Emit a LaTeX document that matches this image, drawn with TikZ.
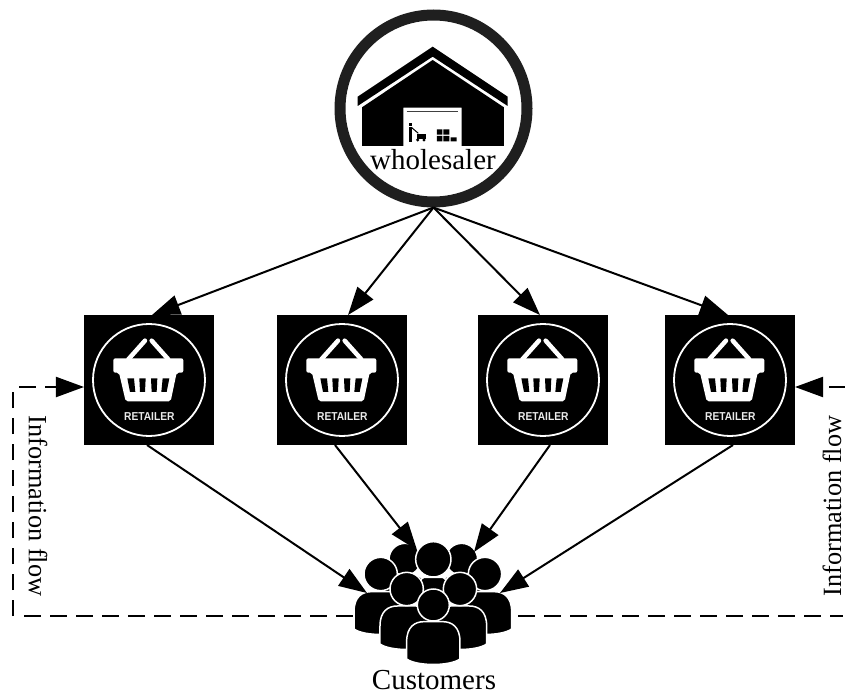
\documentclass[tikz,border=0pt]{standalone}
\usepackage{fontspec}
\setmainfont{Liberation Serif}
\newfontfamily\retailfont{Liberation Sans}
\usetikzlibrary{arrows.meta,calc}
\tikzset{
  conn/.style={line width=2bp,-{Triangle[length=28bp,width=20bp]}},
  infoflow/.style={line width=2bp,dash pattern=on 16.5bp off 9.5bp},
  infotip/.style={-{Triangle[length=28bp,width=20bp]}},
  retailbox/.style={fill=black,minimum width=130bp,minimum height=130bp,inner sep=0pt,outer sep=0pt},
  ppl/.style={fill=black,draw=white,line width=1.5bp},
  bigtext/.style={font=\fontsize{29bp}{32bp}\selectfont,inner sep=0pt},
  flowtext/.style={font=\fontsize{26.3bp}{30bp}\selectfont,inner sep=0pt}
}
\newcommand{\basket}[1]{%
  \begin{scope}[shift={(#1)},scale=0.3333,shift={(-252,-45)}]
    \draw[white,line width=1.8bp] (447,240) circle (168);
    \draw[white,line width=4.5bp,line cap=round] (385,178) -- (435,122);
    \draw[white,line width=4.5bp,line cap=round] (505,178) -- (455,122);
    \fill[white,rounded corners=2bp] (340,175) -- (550,175) -- (550,218) -- (530,218) -- (512,304) -- (377,304) -- (357,218) -- (340,218) -- cycle;
    \foreach \xa/\xb/\xc/\xd in {382/402/406/390, 418/437/435/420, 453/472/470/455, 488/508/500/484}{
      \fill[black] (\xa,235) -- (\xb,235) -- (\xc,276) -- (\xd,276) -- cycle;
    }
    \node[white!92!black,inner sep=0pt,xscale=0.89,font=\retailfont\bfseries\fontsize{11.5bp}{14bp}\selectfont] at (448,349) {RETAILER};
  \end{scope}}
\newcommand{\crowdperson}[7]{% head x,y,r; body centre x, top, half width, bottom
  \path[ppl] ({#4-#6},{#7-18}) -- ({#4-#6},{#5+60}) .. controls ({#4-#6},{#5+15}) and ({#4-#6+25},#5) .. ({#4-28},#5) -- ({#4+28},#5) .. controls ({#4+#6-25},#5) and ({#4+#6},{#5+15}) .. ({#4+#6},{#5+60}) -- ({#4+#6},{#7-18}) .. controls ({#4+#6-30},{#7+4}) and ({#4-#6+30},{#7+4}) .. ({#4-#6},{#7-18}) -- cycle;
  \path[ppl] (#1,#2) circle (#3);}
\begin{document}
\begin{tikzpicture}[x=1bp,y=-1bp]
\useasboundingbox (0,0) rectangle (845,693);
\coordinate (lfoot) at (24,616);
\coordinate (lcorner) at (13,616);
\coordinate (ltop) at (13,391);
\coordinate (lstart) at (19,387);
\coordinate (rstart) at (845,387);
\coordinate (rfoot) at (843,616);
\node[retailbox] (r1) at (149,380) {};
\node[retailbox] (r2) at (342,380) {};
\node[retailbox] (r3) at (543,380) {};
\node[retailbox] (r4) at (730,380) {};
\basket{84,315}\basket{277,315}\basket{478,315}\basket{665,315}
\node[circle,draw=black!88,line width=11bp,minimum size=187bp,inner sep=0pt,outer sep=5.5bp] (w) at (433.5,108.5) {};
\begin{scope}[shift={(320,0)},scale=0.3333]
  \fill (338,140) -- (563,290) -- (563,318) -- (338,170) -- (113,318) -- (113,290) -- cycle;
  \fill (338,180) -- (552,322) -- (552,438) -- (425,438) -- (425,323) -- (250,323) -- (250,438) -- (126,438) -- (126,322) -- cycle;
  \draw[black!75,line width=1.2bp] (260,335) -- (415,335);
  \fill (267,368) rectangle (276,378);
  \fill (268,380) rectangle (275,427);
  \draw[line width=1bp] (274,382) -- (295,400);
  \fill (290,403) rectangle (318,418);
  \fill (293,420) circle (5) (312,420) circle (5);
  \fill (351,388) rectangle (367,404) (370,388) rectangle (388,404);
  \fill (351,408) rectangle (367,424) (370,408) rectangle (388,424) (392,412) rectangle (410,424);
\end{scope}
\node[bigtext] (wlabel) at (433,160) {wholesaler};
\node[inner sep=0pt,minimum width=160bp,minimum height=120bp] (c) at (434,590) {};
\coordinate (c1) at (367,593);
\coordinate (c2) at (417,550);
\coordinate (c3) at (474,552);
\coordinate (c4) at (500,593);
\draw[infoflow] (lfoot) -- (rfoot);
\draw[infoflow] (lcorner) -- (ltop);
\draw[infoflow,infotip] (lstart) -- (r1.west |- lstart);
\draw[infoflow,infotip] (rstart) -- (r4.east |- rstart);
\begin{scope}[shift={(320,520)},scale=0.3333]
  \crowdperson{255}{118}{48}{255}{165}{70}{230}
  \crowdperson{425}{118}{48}{425}{165}{70}{230}
  \crowdperson{182}{162}{50}{182}{215}{80}{345}
  \crowdperson{495}{162}{50}{495}{215}{80}{345}
  \crowdperson{340}{118}{53}{340}{172}{55}{260}
  \crowdperson{260}{207}{50}{260}{258}{80}{390}
  \crowdperson{420}{207}{50}{420}{258}{80}{390}
  \crowdperson{340}{255}{48}{340}{305}{80}{435}
\end{scope}
\node[bigtext] (clabel) at (434,680) {Customers};
\node[flowtext,rotate=-90] (lflow) at (38,506) {Information flow};
\node[flowtext,rotate=90] (rflow) at (832,506) {Information flow};
\draw[conn] (w.south) -- ([xshift=3bp]r1.north);
\draw[conn] (w.south) -- ([xshift=6bp]r2.north);
\draw[conn] (w.south) -- ([xshift=-3bp]r3.north);
\draw[conn] (w.south) -- ([xshift=-2bp]r4.north);
\draw[conn] ([xshift=-2bp]r1.south) -- (c1);
\draw[conn] ([xshift=-7bp]r2.south) -- (c2);
\draw[conn] ([xshift=7bp]r3.south) -- (c3);
\draw[conn] ([xshift=3bp]r4.south) -- (c4);
\end{tikzpicture}
\end{document}
